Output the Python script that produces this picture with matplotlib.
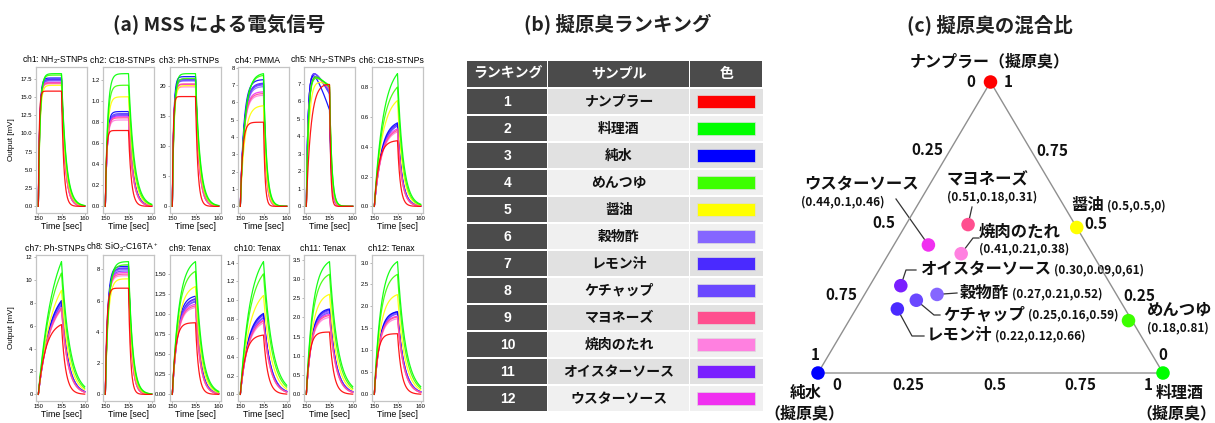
import numpy as np
import matplotlib
matplotlib.use('Agg')
import matplotlib.pyplot as plt
from matplotlib.patches import Rectangle
from matplotlib.ticker import MultipleLocator

W, H = 1215, 423
JP = ['Noto Sans CJK JP', 'DejaVu Sans']
plt.rcParams['font.family'] = ['Liberation Sans', 'DejaVu Sans']

# samples in ranking order
samples = ['ナンプラー', '料理酒', '純水', 'めんつゆ', '醤油', '穀物酢', 'レモン汁',
           'ケチャップ', 'マヨネーズ', '焼肉のたれ', 'オイスターソース', 'ウスターソース']
ranks = [str(i) for i in range(1, 13)]
sample_colors = ['#ff0000', '#00ff00', '#0000ff', '#3cff00', '#ffff00', '#8566ff',
                 '#4a2aff', '#6a48ff', '#ff4f8f', '#ff80e0', '#7a1fff', '#f030f0']

# (a) sensor outputs at t = 155 s [mV], one value per sample
channels = ['ch1: NH$\\mathregular{_2}$-STNPs', 'ch2: C18-STNPs', 'ch3: Ph-STNPs', 'ch4: PMMA',
            'ch5: NH$\\mathregular{_2}$-STNPs', 'ch6: C18-STNPs', 'ch7: Ph-STNPs',
            'ch8: SiO$\\mathregular{_2}$-C16TA$\\mathregular{^+}$', 'ch9: Tenax', 'ch10: Tenax',
            'ch11: Tenax', 'ch12: Tenax']
ch1_out = [15.8, 18.2, 17.6, 18.0, 16.6, 17.2, 17.4, 17.3, 16.9, 16.8, 17.4, 17.0]
ch2_out = [0.72, 1.26, 0.90, 1.15, 1.04, 0.87, 0.88, 0.87, 0.84, 0.82, 0.86, 0.85]
ch3_out = [18.2, 22.0, 21.5, 21.2, 20.0, 20.9, 21.0, 20.8, 20.3, 19.8, 21.1, 20.2]
ch4_out = [4.85, 7.65, 7.3, 7.55, 5.8, 6.9, 7.1, 7.0, 6.5, 6.4, 7.05, 6.6]
ch5_out = [7.0, 6.8, 5.5, 6.9, 6.9, 6.6, 6.4, 6.5, 6.7, 6.8, 6.5, 6.7]
ch5_peak = [7.15, 7.7, 8.05, 7.55, 7.3, 7.9, 8.0, 7.95, 7.7, 7.6, 7.95, 7.75]
ch6_out = [0.44, 0.89, 0.56, 0.80, 0.71, 0.54, 0.55, 0.54, 0.51, 0.50, 0.55, 0.52]
ch7_out = [6.1, 11.6, 8.2, 10.6, 9.1, 7.9, 8.0, 7.8, 7.5, 7.4, 8.1, 7.6]
ch8_out = [6.8, 8.5, 8.2, 8.3, 7.4, 8.0, 8.1, 7.9, 7.7, 7.6, 8.05, 7.8]
ch9_out = [0.89, 1.65, 1.22, 1.53, 1.34, 1.16, 1.19, 1.15, 1.10, 1.08, 1.18, 1.12]
ch10_out = [0.63, 1.41, 0.86, 1.28, 1.05, 0.82, 0.85, 0.81, 0.78, 0.76, 0.84, 0.79]
ch11_out = [1.62, 3.45, 2.22, 3.12, 2.60, 2.15, 2.20, 2.12, 2.05, 2.00, 2.18, 2.08]
ch12_out = [1.38, 3.02, 1.88, 2.73, 2.27, 1.85, 1.88, 1.83, 1.76, 1.72, 1.86, 1.78]
outputs = [ch1_out, ch2_out, ch3_out, ch4_out, ch5_out, ch6_out,
           ch7_out, ch8_out, ch9_out, ch10_out, ch11_out, ch12_out]
rise_tau = [0.35, 0.45, 0.35, 0.9, 0.45, 1.8, 3.0, 0.6, 1.3, 2.0, 1.3, 1.3]
decay_tau = [0.9, 1.1, 0.9, 0.6, 0.45, 1.1, 1.6, 0.8, 1.2, 1.7, 1.6, 1.6]
sample_speed = [0.55, 1.1, 0.85, 1.05, 1.0, 0.9, 0.9, 0.9, 0.85, 0.85, 0.9, 0.85]
ch5_rise = [1.0, 0.45, 0.4, 0.45, 0.6, 0.4, 0.4, 0.4, 0.45, 0.45, 0.4, 0.45]
ytick_step = [2.5, 0.2, 5, 1, 1, 0.2, 2, 2, 0.25, 0.2, 0.5, 0.5]

# (c) mixing ratios (ナンプラー, 料理酒, 純水)
nampla = [1, 0, 0, 0.18, 0.5, 0.27, 0.22, 0.25, 0.51, 0.41, 0.30, 0.44]
sake = [0, 1, 0, 0.81, 0.5, 0.21, 0.12, 0.16, 0.18, 0.21, 0.09, 0.10]
water = [0, 0, 1, 0.01, 0, 0.52, 0.66, 0.59, 0.31, 0.38, 0.61, 0.46]
ratio_text = ['', '', '', '(0.18,0.81)', '(0.5,0.5,0)', '(0.27,0.21,0.52)', '(0.22,0.12,0.66)',
              '(0.25,0.16,0.59)', '(0.51,0.18,0.31)', '(0.41,0.21,0.38)', '(0.30,0.09,0,61)',
              '(0.44,0.1,0.46)']
tick_vals = [0, 0.25, 0.5, 0.75, 1]


def px_rect(left, top, w, h):
    return [left / W, 1 - (top + h) / H, w / W, h / H]


fig = plt.figure(figsize=(W / 100, H / 100), dpi=100)
ov = fig.add_axes([0, 0, 1, 1])
ov.set_xlim(0, W)
ov.set_ylim(H, 0)
ov.axis('off')
ov.set_zorder(0)

# ---------------- (a) MSS signals ----------------
t = np.linspace(150, 160, 501)
s = t - 150
lefts = [36, 103, 170, 238, 304, 372]
tops = [67, 255]
order = [10, 6, 5, 7, 2, 11, 9, 8, 4, 3, 1, 0]
for ci in range(12):
    ax = fig.add_axes(px_rect(lefts[ci % 6], tops[ci // 6], 51, 146))
    for k in order:
        sp = sample_speed[k]
        td = decay_tau[ci] * sp
        if ci == 4:
            A, E, tr = ch5_peak[k], ch5_out[k], ch5_rise[k]
            up = A * (1 - np.exp(-s / tr)) - (A - E) * (s / 5) ** 1.5
            end = E
        else:
            A = outputs[ci][k]
            tr = rise_tau[ci] * sp
            up = A * (1 - np.exp(-s / tr)) / (1 - np.exp(-5 / tr))
            end = A
        y = np.where(s <= 5, up, end * np.exp(-(s - 5) / td))
        ax.plot(t, y, color=sample_colors[k], lw=0.9, alpha=0.9)
    ax.yaxis.set_major_locator(MultipleLocator(ytick_step[ci]))
    ax.set_xticks([150, 155, 160])
    ax.tick_params(labelsize=4.2, length=1.5, width=0.5, pad=1, color='#999999')
    for sp_ in ax.spines.values():
        sp_.set_color('#c4c4c4')
        sp_.set_linewidth(0.9)
    ax.set_title(channels[ci], fontsize=6.2, x=0.38, pad=3)
    ax.set_xlabel('Time [sec]', fontsize=6.4, labelpad=0.5)
fig.text(12 / W, 1 - 140 / H, 'Output [mV]', rotation=90, fontsize=5.8, ha='center', va='center')
fig.text(12 / W, 1 - 328 / H, 'Output [mV]', rotation=90, fontsize=5.8, ha='center', va='center')

# ---------------- titles ----------------
for x, title in [(219, '(a) MSS による電気信号'), (618, '(b) 擬原臭ランキング'), (990, '(c) 擬原臭の混合比')]:
    ov.text(x, 25, title, fontsize=14, fontweight='bold', family=JP, ha='center', va='center',
            color='#222222')

# ---------------- (b) ranking table ----------------
col_x = [467, 548, 690, 763]
dark = '#4b4b4b'
head_top, head_h = 61, 26
for j, head in enumerate(['ランキング', 'サンプル', '色']):
    ov.add_patch(Rectangle((col_x[j], head_top), col_x[j + 1] - col_x[j] - 1.5, head_h,
                           facecolor=dark, edgecolor='none'))
    ov.text((col_x[j] + col_x[j + 1]) / 2, head_top + head_h / 2, head, color='white',
            fontsize=10, fontweight='bold', family=JP, ha='center', va='center')
for i in range(12):
    top = 89 + i * 27
    shade = '#e1e1e1' if i % 2 == 0 else '#f0f0f0'
    ov.add_patch(Rectangle((col_x[0], top), col_x[1] - col_x[0] - 1.5, 25.5, facecolor=dark, edgecolor='none'))
    ov.add_patch(Rectangle((col_x[1], top), col_x[2] - col_x[1] - 1.5, 25.5, facecolor=shade, edgecolor='none'))
    ov.add_patch(Rectangle((col_x[2], top), col_x[3] - col_x[2], 25.5, facecolor=shade, edgecolor='none'))
    ov.add_patch(Rectangle((697, top + 6.5), 58, 12.5, facecolor=sample_colors[i], edgecolor='#dddddd', lw=0.5))
    ov.text((col_x[0] + col_x[1]) / 2, top + 13, ranks[i], color='white', fontsize=10,
            fontweight='bold', ha='center', va='center')
    ov.text((col_x[1] + col_x[2]) / 2, top + 13, samples[i], color='#111111', fontsize=10,
            fontweight='bold', family=JP, ha='center', va='center')

# ---------------- (c) ternary plot ----------------
tern = fig.add_axes(px_rect(818, 82, 345, 291))
tern.set_zorder(2)
tern.set_xlim(0, 1)
tern.set_ylim(0, 1)
tern.axis('off')
tx = [sk + n / 2 for n, sk in zip(nampla, sake)]
ty = nampla
tern.plot([0, 1, 0.5, 0], [0, 0, 1, 0], color='#8f8f8f', lw=1.0, clip_on=False, zorder=1)
tern.scatter(tx, ty, s=95, c=sample_colors, edgecolors='none', clip_on=False, zorder=3)

tick_kw = dict(fontsize=11, fontweight='bold', family=JP, ha='center', va='center',
               textcoords='offset pixels', annotation_clip=False, color='#111111')
# left edge: 純水 fraction
for v in tick_vals:
    off = (-20, 0) if v == 0 else ((-3, 18) if v == 1 else (-20, 5))
    tern.annotate(f'{v:g}', ((1 - v) / 2, 1 - v), xytext=off, **tick_kw)
# right edge: ナンプラー fraction
for v in tick_vals:
    off = (18, 0) if v == 1 else ((0, 18) if v == 0 else (19, 4))
    tern.annotate(f'{v:g}', (1 - v / 2, v), xytext=off, **tick_kw)
# bottom edge: 料理酒 fraction
for v in tick_vals:
    off = (19, -12) if v == 0 else ((-15, -12) if v == 1 else (4, -12))
    tern.annotate(f'{v:g}', (v, 0), xytext=off, **tick_kw)

lab_kw = dict(fontsize=11.5, fontweight='bold', family=JP, va='center', color='#111111')
ov.text(990, 61, 'ナンプラー（擬原臭）', ha='center', **lab_kw)
ov.text(806, 393, '純水', ha='center', **lab_kw)
ov.text(804, 413, '（擬原臭）', ha='center', **lab_kw)
ov.text(1180, 393, '料理酒', ha='center', **lab_kw)
ov.text(1176, 413, '（擬原臭）', ha='center', **lab_kw)


def dot_px(i):
    d = tern.transData.transform((tx[i], ty[i]))
    return d[0], H - d[1]


name_kw = dict(fontsize=11.8, fontweight='bold', family=JP, va='center', color='#111111')
val_kw = dict(fontsize=8.5, fontweight='bold', family=JP, va='center', color='#111111')
# (sample index, name position, name align, value position or None=inline, leader points)
labels = [
    (11, (862, 184), 'center', (843, 202), [(896, 199)]),
    (8, (987, 179), 'center', (992, 197), [(972, 207)]),
    (9, (979, 232), 'left', (979, 249), [(979, 238), (973, 238)]),
    (10, (920, 269), 'left', None, [(916, 270), (906, 270)]),
    (5, (960, 293), 'left', None, [(957, 293)]),
    (7, (943, 314), 'left', None, [(940, 315), (934, 315)]),
    (6, (927, 335), 'left', None, [(924, 336), (912, 336)]),
    (4, (1071, 205), 'left', None, []),
    (3, (1147, 310), 'left', (1147, 328), []),
]
fig.canvas.draw()
renderer = fig.canvas.get_renderer()
for k, (nx, ny), ha, vpos, leader in labels:
    txt = ov.text(nx, ny, samples[k], ha=ha, **name_kw)
    if vpos is None:
        bb = txt.get_window_extent(renderer)
        ov.text(bb.x1 + 3, ny + 1, ratio_text[k], ha='left', **val_kw)
    else:
        ov.text(vpos[0], vpos[1], ratio_text[k], ha=ha, **val_kw)
    if leader:
        pts = leader + [dot_px(k)]
        ov.plot([p[0] for p in pts], [p[1] for p in pts], color='#333333', lw=0.9)

fig.savefig('out.png', dpi=100)
